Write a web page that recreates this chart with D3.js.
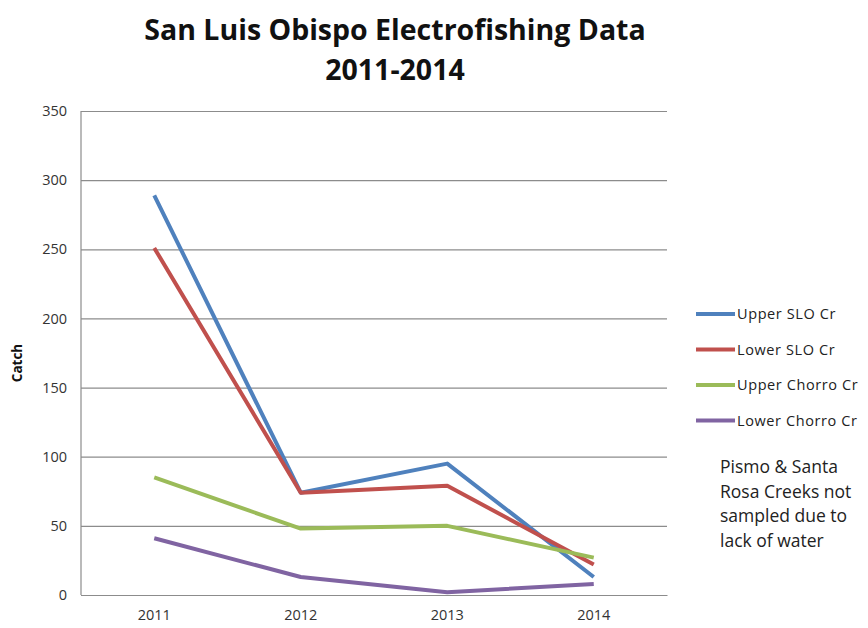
<!DOCTYPE html>
<html>
<head>
<meta charset="utf-8">
<script src="https://cdn.jsdelivr.net/npm/d3@7"></script>
<style>
  body { margin: 0; background: #fff; }
  text { font-family: "Open Sans", "Noto Sans", sans-serif; }
</style>
</head>
<body>
<div id="chart"></div>
<script>
// data
const years = ["2011", "2012", "2013", "2014"];
const upperSLO = [289, 74, 95, 13];
const lowerSLO = [251, 74, 79, 22];
const upperChorro = [85, 48, 50, 27];
const lowerChorro = [41, 13, 2, 8];
const seriesNames = ["Upper SLO Cr", "Lower SLO Cr", "Upper Chorro Cr", "Lower Chorro Cr"];
const yTicks = [0, 50, 100, 150, 200, 250, 300, 350];
const noteLines = ["Pismo & Santa", "Rosa Creeks not", "sampled due to", "lack of water"];

const colors = ["#4F81BD", "#C0504D", "#9BBB59", "#8064A2"];
const allSeries = [upperSLO, lowerSLO, upperChorro, lowerChorro];

var width = 868, height = 628;
var plotLeft = 81, plotRight = 667, plotTop = 111, plotBottom = 595;

const svg = d3.select("#chart")
  .append("svg")
  .attr("width", width)
  .attr("height", height);

// title
svg.append("text")
  .attr("x", 395).attr("y", 40)
  .attr("text-anchor", "middle")
  .style("font-size", "28.5px").style("font-weight", "bold").style("fill", "#111")
  .text("San Luis Obispo Electrofishing Data");
svg.append("text")
  .attr("x", 395).attr("y", 80)
  .attr("text-anchor", "middle")
  .style("font-size", "28.5px").style("font-weight", "bold").style("fill", "#111")
  .text("2011-2014");

var x = d3.scaleBand().domain(years).range([plotLeft, plotRight]);
var y = d3.scaleLinear().domain([0, 350]).range([plotBottom, plotTop]);

// gridlines + y labels
const yAxis = svg.append("g")
  .attr("transform", `translate(${plotLeft},0)`)
  .call(d3.axisLeft(y).tickValues(yTicks).tickSize(-(plotRight - plotLeft)).tickPadding(14));
yAxis.select(".domain").remove();
yAxis.selectAll(".tick line").attr("stroke", "#8c8c8c").attr("stroke-width", 1.2);
yAxis.selectAll(".tick text")
  .style("font-size", "14.5px").style("fill", "#333").style("font-family", "'Open Sans', sans-serif");

// axis lines
svg.append("line")
  .attr("x1", plotLeft).attr("x2", plotLeft).attr("y1", plotTop).attr("y2", plotBottom)
  .attr("stroke", "#8c8c8c").attr("stroke-width", 1.2);

const xAxis = svg.append("g")
  .attr("transform", `translate(0,${plotBottom})`)
  .call(d3.axisBottom(x).tickSize(0).tickPadding(15));
xAxis.select(".domain").attr("stroke", "#8c8c8c").attr("stroke-width", 1.2);
xAxis.selectAll(".tick text")
  .style("font-size", "14.5px").style("fill", "#333").style("font-family", "'Open Sans', sans-serif");

// y axis title
svg.append("text")
  .attr("transform", "translate(22,363) rotate(-90)")
  .attr("text-anchor", "middle")
  .style("font-size", "13.5px").style("font-weight", "bold").style("fill", "#111")
  .text("Catch");

// lines
const line = d3.line()
  .x((d, i) => x(years[i]) + x.bandwidth() / 2)
  .y(d => y(d));

allSeries.forEach((s, i) => {
  svg.append("path")
    .datum(s)
    .attr("fill", "none")
    .attr("stroke", colors[i])
    .attr("stroke-width", 4)
    .attr("stroke-linejoin", "round")
    .attr("d", line);
});

// legend
const legend = svg.append("g");
seriesNames.forEach((name, i) => {
  var ly = 314 + i * 35.5;
  legend.append("line")
    .attr("x1", 696).attr("x2", 735).attr("y1", ly).attr("y2", ly)
    .attr("stroke", colors[i]).attr("stroke-width", 4);
  legend.append("text")
    .attr("x", 737).attr("y", ly + 5)
    .style("font-size", "14.5px").style("letter-spacing", "0.6px").style("fill", "#222")
    .text(name);
});

// note
noteLines.forEach((t, i) => {
  svg.append("text")
    .attr("x", 720).attr("y", 473 + i * 24.5)
    .style("font-size", "17.5px").style("fill", "#222")
    .text(t);
});
</script>
</body>
</html>
